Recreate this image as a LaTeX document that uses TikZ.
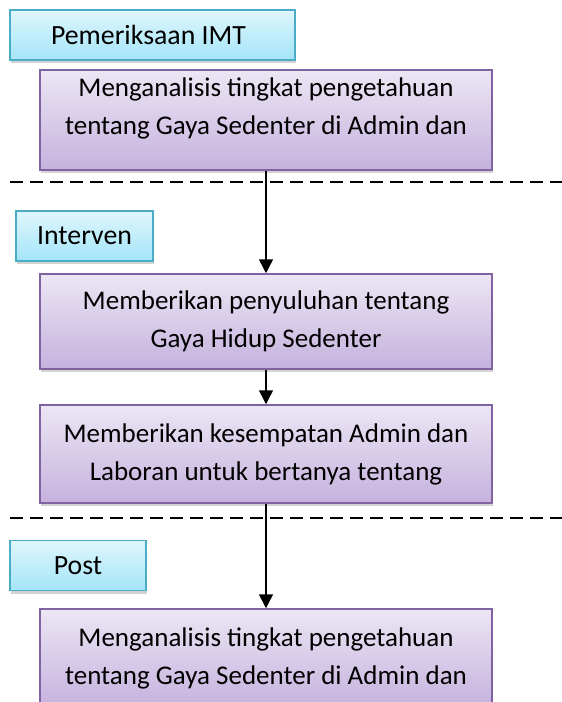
\documentclass[tikz,border=0pt]{standalone}
\usepackage{fontspec}
\setmainfont{Carlito}
\usetikzlibrary{positioning}
\usetikzlibrary{arrows.meta,shadows}
\definecolor{phaseTop}{HTML}{DFF6FD}
\definecolor{phaseBot}{HTML}{A3E5F8}
\definecolor{phaseLine}{HTML}{4BACC6}
\definecolor{stepTop}{HTML}{ECE6F4}
\definecolor{stepBot}{HTML}{C5B2DE}
\definecolor{stepLine}{HTML}{8064A2}
\tikzset{
    phase/.style={
		draw=phaseLine, line width=1.5pt, top color=phaseTop, bottom color=phaseBot,
		minimum height=50pt, inner sep=0pt,
		font=\fontsize{27.8}{32}\selectfont,
		drop shadow={shadow xshift=1pt, shadow yshift=-3pt, opacity=0.35}
	}
}
\tikzset{
    stepbox/.style={
		draw=stepLine, line width=1.5pt, top color=stepTop, bottom color=stepBot,
		minimum width=452pt, inner sep=0pt, align=center,
		font=\fontsize{27}{38}\selectfont,
		drop shadow={shadow xshift=1pt, shadow yshift=-3pt, opacity=0.35}
	}
}
\tikzset{
    flow/.style={line width=1.5pt, -{Triangle[length=14pt, width=14pt]}},
    divider/.style={line width=1.5pt, dash pattern=on 13pt off 7pt}
}

\begin{document}
\begin{tikzpicture}[x=1pt, y=-1pt]
        \useasboundingbox (0,0) rectangle (562,702);
        \clip (0,0) rectangle (562,702);
        % dividers between the phases
        \draw [divider] (10,182) -- (562,182);
        \draw [divider] (10,518) -- (562,518);
        % phase labels
        \node[phase, minimum width=285pt] (pre) at (152.5,35) {Pemeriksaan IMT\hspace*{8pt}};
        \node[phase, minimum width=137pt] (interv) at (84.5,236) {Interven};
        \node[phase, minimum width=136pt] (post) at (78,565.5) {Post};
        % steps
        \node[stepbox, minimum height=100pt, text height=64pt, text depth=36pt] (ana1) at (266,120)
            {Menganalisis tingkat pengetahuan\\tentang Gaya Sedenter di Admin dan};
        \node[stepbox, minimum height=95pt] (edu) at (266,321.5)
            {Memberikan penyuluhan tentang\\Gaya Hidup Sedenter};
        \node[stepbox, minimum height=98pt] (ask) at (266,454)
            {Memberikan kesempatan Admin dan\\Laboran untuk bertanya tentang};
        \node[stepbox, minimum height=98pt] (ana2) at (266,658)
            {Menganalisis tingkat pengetahuan\\tentang Gaya Sedenter di Admin dan};
        \draw [flow] (ana1.south) -- (edu.north);
        \draw [flow] (edu.south) -- (ask.north);
        \draw [flow] (ask.south) -- (ana2.north);
      \end{tikzpicture}
\end{document}
